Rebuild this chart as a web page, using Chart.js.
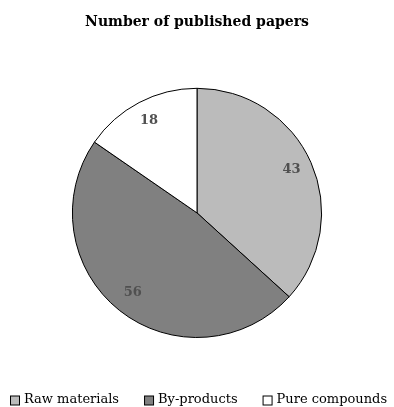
<!DOCTYPE html>
<html>
<head>
<meta charset="utf-8">
<script src="https://cdn.jsdelivr.net/npm/chart.js@4.4.1/dist/chart.umd.min.js"></script>
<style>
  html, body { margin: 0; padding: 0; background: #fff; }
  #wrap { width: 394px; height: 407px; position: relative; }
</style>
</head>
<body>
<div id="wrap"><canvas id="c" width="394" height="407"></canvas></div>
<script>
const categories = ["Raw materials", "By-products", "Pure compounds"];
const values = [43, 56, 18];
const sliceColors = ["#bbbbbb", "#808080", "#ffffff"];
const titleText = "Number of published papers";

const SERIF = "'DejaVu Serif', 'Liberation Serif', serif";

const valueLabels = {
  id: 'valueLabels',
  afterDatasetsDraw(chart) {
    const ctx = chart.ctx;
    const meta = chart.getDatasetMeta(0);
    ctx.save();
    ctx.font = "bold 13px " + SERIF;
    ctx.fillStyle = "#505050";
    ctx.textAlign = "center";
    ctx.textBaseline = "middle";
    meta.data.forEach((arc, i) => {
      const p = arc.getProps(['x', 'y', 'startAngle', 'endAngle', 'outerRadius'], true);
      const mid = (p.startAngle + p.endAngle) / 2;
      const r = p.outerRadius * 0.83;
      ctx.fillText(String(chart.data.datasets[0].data[i]), p.x + Math.cos(mid) * r, p.y + Math.sin(mid) * r - 1);
    });
    ctx.restore();
  }
};

const bottomLegend = {
  id: 'bottomLegend',
  afterDraw(chart) {
    const ctx = chart.ctx;
    ctx.save();
    ctx.font = "13px " + SERIF;
    const box = 9, gapBT = 5, gapItem = 25;
    const widths = categories.map(t => ctx.measureText(t).width);
    const total = widths.reduce((a, w) => a + box + gapBT + w, 0) + gapItem * (categories.length - 1);
    let x = Math.round((chart.width - total) / 2) + 2;
    const cy = 400;
    ctx.textBaseline = "middle";
    ctx.textAlign = "left";
    categories.forEach((t, i) => {
      ctx.fillStyle = sliceColors[i];
      ctx.fillRect(x + 0.5, cy - box / 2 + 0.5, box, box);
      ctx.strokeStyle = "#000";
      ctx.lineWidth = 1;
      ctx.strokeRect(x + 0.5, cy - box / 2 + 0.5, box, box);
      ctx.fillStyle = "#000";
      ctx.fillText(t, x + box + gapBT, cy);
      x += box + gapBT + widths[i] + gapItem;
    });
    ctx.restore();
  }
};

new Chart(document.getElementById('c'), {
  type: 'pie',
  data: {
    labels: categories,
    datasets: [{
      data: values,
      backgroundColor: sliceColors,
      borderColor: "#000000",
      borderWidth: 1
    }]
  },
  options: {
    responsive: false,
    animation: false,
    layout: { padding: { top: 0, bottom: 69, left: 0, right: 0 } },
    plugins: {
      legend: { display: false },
      tooltip: { enabled: false },
      title: {
        display: true,
        text: titleText,
        color: "#000",
        font: { family: SERIF, size: 14, weight: 'bold', lineHeight: 1.2 },
        padding: { top: 14, bottom: 57 }
      }
    }
  },
  plugins: [valueLabels, bottomLegend]
});
</script>
</body>
</html>
